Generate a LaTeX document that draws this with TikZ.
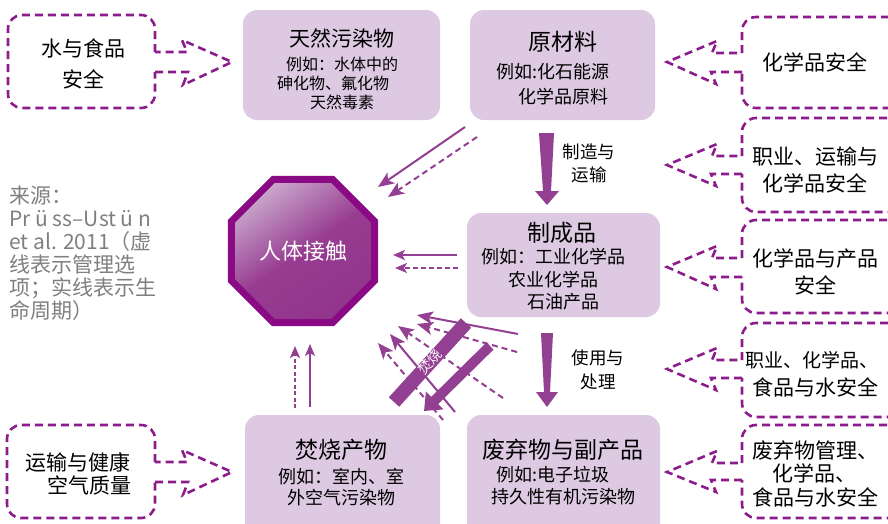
\documentclass[tikz,border=0pt]{standalone}
\usepackage{fontspec}
\setmainfont{Noto Sans CJK SC}
\usetikzlibrary{shapes.geometric,arrows.meta}
\definecolor{boxfill}{HTML}{DDC9E2}
\definecolor{arrowc}{HTML}{933F92}
\definecolor{callc}{HTML}{8C1C8C}
\definecolor{octb}{HTML}{8A0A85}
\definecolor{octlight}{HTML}{C9A7CB}
\definecolor{octmid}{HTML}{973C91}
\definecolor{octdark}{HTML}{92348C}
\definecolor{graytxt}{HTML}{7F7F7F}
\tikzset{
  mainbox/.style={fill=boxfill, rounded corners=14pt, inner sep=0pt},
  callout/.style={draw=callc, line width=2.6pt, dash pattern=on 8pt off 5pt},
  thinarr/.style={draw=arrowc, line width=2pt, -{Stealth[length=16pt,width=13pt,inset=4pt]}},
  dasharr/.style={thinarr, dash pattern=on 6pt off 4pt},
  smallarr/.style={draw=arrowc, line width=1.6pt, -{Stealth[length=12pt,width=10pt,inset=3pt]}},
  ttl/.style={font=\fontsize{23}{23}\selectfont, inner sep=0pt},
  ttlS/.style={font=\fontsize{21}{21}\selectfont, inner sep=0pt},
  sub/.style={font=\fontsize{18}{18}\selectfont, inner sep=0pt},
  subS/.style={font=\fontsize{16}{16}\selectfont, inner sep=0pt},
  ctxt/.style={font=\fontsize{21}{21}\selectfont, inner sep=0pt},
  lbl/.style={font=\fontsize{17.5}{17.5}\selectfont, inner sep=0pt},
}
\begin{document}
\begin{tikzpicture}[x=1pt,y=-1pt]
\useasboundingbox (0,0) rectangle (888,523);
\clip (0,0) rectangle (888,523);

% ---- main boxes ----
\node[mainbox, minimum width=197pt, minimum height=110pt] (nat) at (341.5,65) {};
\node[mainbox, minimum width=185pt, minimum height=110pt] (raw) at (562.5,65) {};
\node[mainbox, minimum width=193pt, minimum height=104pt] (man) at (563.5,265) {};
\node[mainbox, minimum width=195pt, minimum height=125pt] (inc) at (342.5,477.5) {};
\node[mainbox, minimum width=193pt, minimum height=125pt] (wst) at (563.5,477.5) {};

\node[ttlS] (natT) at (342,38) {天然污染物};
\node[subS] (natA) at (342,64) {例如：水体中的};
\node[subS] (natB) at (333,83) {砷化物、氟化物};
\node[subS] (natC) at (342,102) {天然毒素};

\node[ttl] (rawT) at (563,42) {原材料};
\node[sub] (rawA) at (553,72) {例如:化石能源};
\node[sub] (rawB) at (563,97) {化学品原料};

\node[ttl] (manT) at (562,233) {制成品};
\node[sub] (manA) at (553,257) {例如：工业化学品};
\node[sub] (manB) at (553,280) {农业化学品};
\node[sub] (manC) at (563,302) {石油产品};

\node[ttl] (incT) at (341,450) {焚烧产物};
\node[sub] (incA) at (341,477) {例如：室内、室};
\node[sub] (incB) at (341,498) {外空气污染物};

\node[ttl] (wstT) at (563,450) {废弃物与副产品};
\node[sub] (wstA) at (553,475) {例如:电子垃圾};
\node[sub] (wstB) at (563,497) {持久性有机污染物};

% ---- octagon ----
\node[regular polygon, regular polygon sides=8, minimum size=155pt, inner sep=0pt,
      draw=octb, line width=7pt, top color=octlight, bottom color=octdark,
      middle color=octmid, shading angle=35] (hum) at (303,251) {};
\node[font=\fontsize{22}{22}\selectfont, text=white, inner sep=0pt] (humT) at (hum.center) {人体接触};

% ---- big process arrows ----
\fill[arrowc] (539,133) -- (554,133) -- (551,191) -- (559,191) -- (547,205) -- (535,191) -- (543,191) -- cycle;
\node[lbl] (l1a) at (589,152) {制造与};
\node[lbl] (l1b) at (589,175) {运输};
\fill[arrowc] (541,333) -- (553,333) -- (550,392) -- (558,392) -- (547,407) -- (536,392) -- (544,392) -- cycle;
\node[lbl] (l2a) at (598,358) {使用与};
\node[lbl] (l2b) at (598,382) {处理};

% ---- exposure arrows ----
\coordinate (r1s) at (465,127); \coordinate (r1e) at (378,187);
\coordinate (r2s) at (477,137); \coordinate (r2e) at (388,197);
\draw[thinarr] (r1s) -- (r1e);
\draw[dasharr] (r2s) -- (r2e);
\coordinate (m1s) at (457,255); \coordinate (m1e) at (393,255);
\coordinate (m2s) at (458,268); \coordinate (m2e) at (395,268);
\draw[smallarr] (m1s) -- (m1e);
\draw[smallarr, dash pattern=on 5pt off 3pt] (m2s) -- (m2e);
\coordinate (b1s) at (295,408); \coordinate (b1e) at (295,346);
\coordinate (b2s) at (310,407); \coordinate (b2e) at (310,344);
\draw[smallarr, line width=1.3pt, dash pattern=on 4pt off 2.5pt] (b1s) -- (b1e);
\draw[smallarr, line width=1.3pt] (b2s) -- (b2e);

% ---- incineration cluster ----
\draw[thinarr] (518,334) -- (417,315);
\draw[dasharr] (517,352) -- (417,324);
\draw[dasharr] (503,398) -- (398,326);
\draw[thinarr] (455,412) -- (390,334);
\draw[dasharr] (443,420) -- (378,343);
\draw[arrowc, line width=14pt] (394,402) -- (466,323);
\node[font=\fontsize{14}{14}\selectfont, text=white, rotate=48, inner sep=0pt] (burn) at (430,362) {焚烧};
\draw[arrowc, line width=10pt, -{Triangle[length=15pt,width=24pt]}] (490,346) -- (424,411);

% ---- left callouts ----
\draw[callout, rounded corners=14pt] (155,52) -- (155,15) -- (8,15) -- (8,108) -- (155,108) -- (155,72);
\draw[callout] (155,72) -- (188,72) -- (183,85) -- (232,62) -- (182,40) -- (187,52) -- (155,52);
\node[ctxt] (c1a) at (83,48) {水与食品};
\node[ctxt] (c1b) at (83,79) {安全};

\draw[callout, rounded corners=14pt] (155,462) -- (155,425) -- (7,425) -- (7,518) -- (155,518) -- (155,482);
\draw[callout] (155,482) -- (188,482) -- (183,495) -- (232,472) -- (182,450) -- (187,462) -- (155,462);
\node[ctxt] (c2a) at (78,462) {运输与健康};
\node[ctxt] (c2b) at (89,485) {空气质量};

% ---- right callouts ----
\foreach \ya/\yb/\yt/\ytop/\ybot in {53/72/62/17/108, 156/174/165/118/212, 258/277/267/220/313, 360/378/369/323/417, 463/480/472/425/518}{
  \draw[callout, rounded corners=14pt] (742,\ya) -- (742,\ytop) -- (905,\ytop) -- (905,\ybot) -- (742,\ybot) -- (742,\yb);
  \draw[callout] (742,\yb) -- (711,\yb) -- (716,\yb+12) -- (667,\yt) -- (717,\ya-12) -- (712,\ya) -- (742,\ya);
}
\node[ctxt] (r1) at (815,62) {化学品安全};
\node[ctxt] (r2a) at (815,157) {职业、运输与};
\node[ctxt] (r2b) at (815,183) {化学品安全};
\node[ctxt] (r3a) at (815,258) {化学品与产品};
\node[ctxt] (r3b) at (815,285) {安全};
\node[font=\fontsize{19}{19}\selectfont, inner sep=0pt] (r4a) at (812,360) {职业、化学品、};
\node[ctxt] (r4b) at (815,387) {食品与水安全};
\node[ctxt] (r5a) at (815,450) {废弃物管理、};
\node[ctxt] (r5b) at (814,473) {化学品、};
\node[ctxt] (r5c) at (815,497) {食品与水安全};

% ---- source note ----
\node[font=\fontsize{21}{23}\selectfont, text=graytxt, align=left, anchor=north west, inner sep=0pt] (src) at (9,186)
  {来源：\\Pr ü ss–Ust ü n\\et al. 2011（虚\\线表示管理选\\项；实线表示生\\命周期）};
\end{tikzpicture}
\end{document}
